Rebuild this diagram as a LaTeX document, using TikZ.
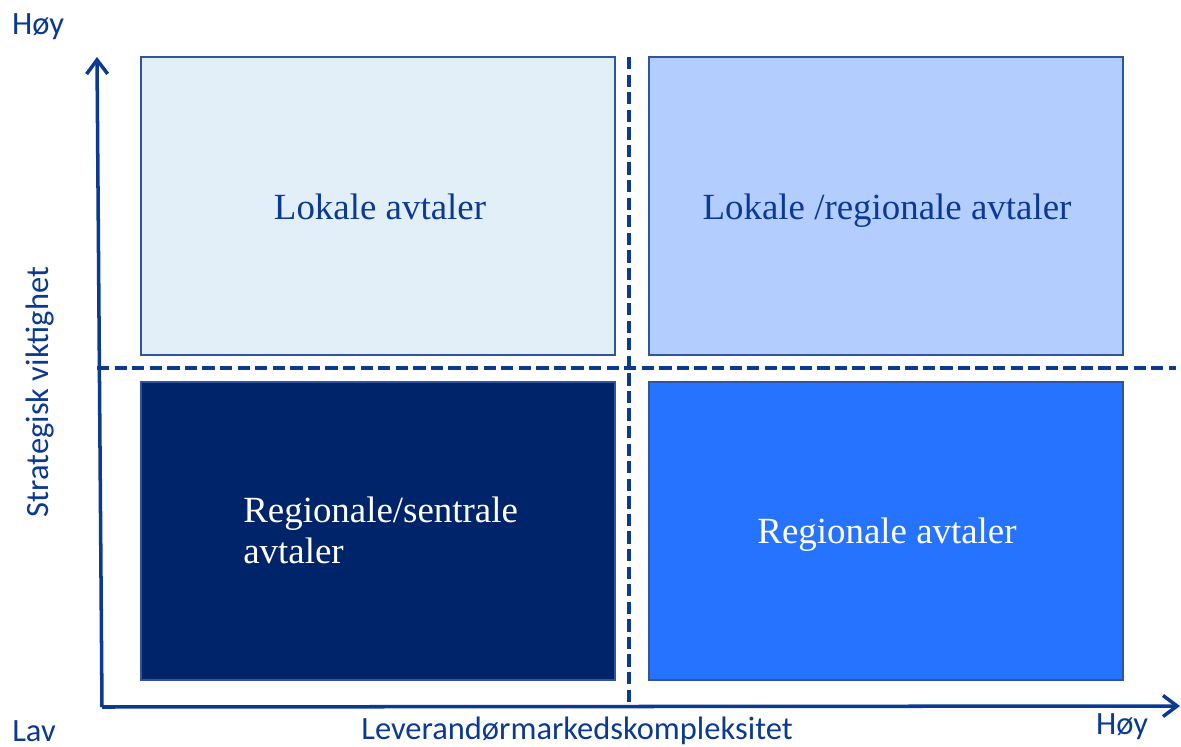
\documentclass[tikz,border=0pt]{standalone}
\usepackage{fontspec}
\setmainfont{Liberation Serif}
\newfontfamily\axisfont{Carlito}
\usetikzlibrary{arrows.meta}
\definecolor{axisblue}{HTML}{0B3A92}
\definecolor{txtblue}{HTML}{0A3A94}
\definecolor{edgeblue}{HTML}{2F55A0}
\definecolor{qtl}{HTML}{E2EEF8}
\definecolor{qtr}{HTML}{B4CDFF}
\definecolor{qbl}{HTML}{00246A}
\definecolor{qbr}{HTML}{2673FF}
\tikzset{
  quad/.style={draw=edgeblue, line width=1.1pt, minimum width=474*0.02cm, minimum height=298*0.02cm, inner sep=0pt},
  quadtext/.style={font=\fontsize{21pt}{23.3pt}\selectfont, anchor=base, inner sep=0pt},
  axisline/.style={draw=axisblue, line width=2pt, -{Straight Barb[length=8pt,width=12pt,line width=2pt]}},
  divider/.style={draw=axisblue, line width=2pt, dash pattern=on 7pt off 3pt},
  axislabel/.style={text=axisblue, font=\axisfont\fontsize{18.5pt}{20pt}\selectfont, inner sep=0pt, anchor=base}
}
\begin{document}
\begin{tikzpicture}[x=0.02cm, y=-0.02cm]
\useasboundingbox (0,0) rectangle (1181,747);
% quadrants
\node[quad, fill=qtl] (tl) at (378,206) {};
\node[quad, fill=qtr] (tr) at (886,206) {};
\node[quad, fill=qbl] (bl) at (378,531) {};
\node[quad, fill=qbr] (br) at (886,531) {};
\node[quadtext, text=txtblue] (tlt) at (380,219) {Lokale avtaler};
\node[quadtext, text=txtblue] (trt) at (887,219) {Lokale /regionale avtaler};
\node[quadtext, text=white, anchor=base west] (blt1) at (243,522) {Regionale/sentrale};
\node[quadtext, text=white, anchor=base west] (blt2) at (243,563) {avtaler};
\node[quadtext, text=white] (brt) at (887,543) {Regionale avtaler};
% dividers
\coordinate (vtop) at (629,57);
\coordinate (vbot) at (629,708);
\coordinate (hl) at (97,368);
\coordinate (hr) at (1176,368);
\draw[divider] (vtop) -- (vbot);
\draw[divider] (hl) -- (hr);
% axes
\coordinate (origin) at (102,707);
\coordinate (ytip) at (97,57);
\coordinate (xtip) at (1180,706);
\draw[axisline] (origin) -- (ytip);
\draw[axisline] (origin) -- (xtip);
% axis labels
\node[axislabel] (yhigh) at (38,34) {Høy};
\node[axislabel] (ylow) at (34,741) {Lav};
\node[axislabel] (xhigh) at (1122,734) {Høy};
\node[axislabel] (xlab) at (577,739) {Leverandørmarkedskompleksitet};
\node[axislabel, rotate=90, anchor=base] (ylab) at (49,392) {Strategisk viktighet};
\end{tikzpicture}
\end{document}
